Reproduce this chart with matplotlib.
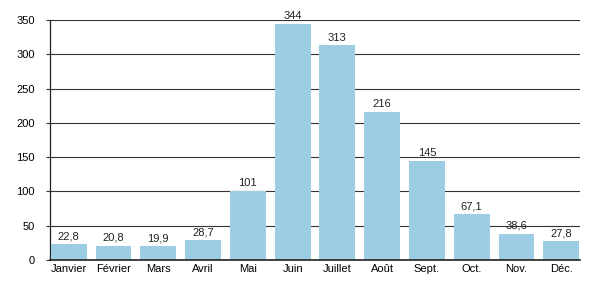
import matplotlib
matplotlib.use('Agg')
import matplotlib.pyplot as plt

plt.rcParams['font.family'] = ['Liberation Sans', 'DejaVu Sans']

mois = ['Janvier', 'Février', 'Mars', 'Avril', 'Mai', 'Juin', 'Juillet',
        'Août', 'Sept.', 'Oct.', 'Nov.', 'Déc.']
valeurs = [22.8, 20.8, 19.9, 28.7, 101, 344, 313, 216, 145, 67.1, 38.6, 27.8]
etiquettes = ['22,8', '20,8', '19,9', '28,7', '101', '344', '313', '216',
              '145', '67,1', '38,6', '27,8']

fig = plt.figure(figsize=(6, 3), dpi=100)
ax = fig.add_axes([50/600, 40/300, 530/600, 240/300])

x = range(len(mois))
bars = ax.bar(x, valeurs, width=0.8, color='#9ccde4', zorder=3)
for b, t in zip(bars, etiquettes):
    ax.text(b.get_x() + b.get_width()/2, b.get_height() + 4, t,
            ha='center', va='bottom', fontsize=8, color='#222222', zorder=4)

ax.set_ylim(0, 350)
ax.set_xlim(-0.42, 11.42)
ax.set_yticks(range(0, 351, 50))
ax.set_xticks(list(x))
ax.set_xticklabels(mois)
ax.yaxis.grid(True, color='#333333', linewidth=0.8, zorder=1)
ax.tick_params(axis='x', length=0, labelsize=8, pad=3)
ax.tick_params(axis='y', length=3, width=0.8, labelsize=8, pad=8, color='#333333')
for s in ['top', 'right']:
    ax.spines[s].set_visible(False)
ax.spines['left'].set_color('#222222')
ax.spines['bottom'].set_color('#222222')
ax.spines['left'].set_linewidth(0.9)
ax.spines['bottom'].set_linewidth(1.2)
ax.spines['bottom'].set_zorder(5)

fig.savefig('out.png', dpi=100)
